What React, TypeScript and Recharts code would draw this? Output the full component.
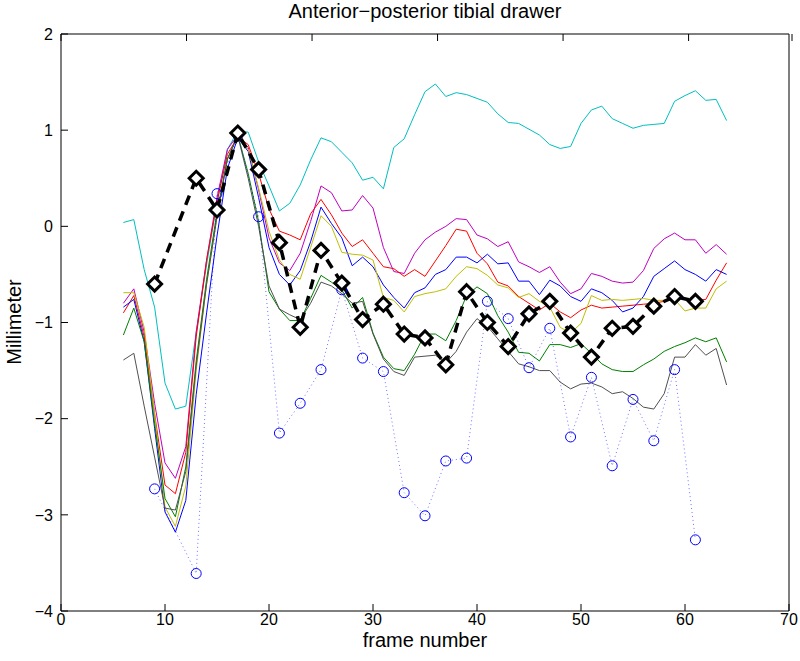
import React from "react";
import { LineChart, Line, XAxis, YAxis } from "recharts";

// frame numbers of the seven trial curves
const frames = [
  6, 7, 8, 9, 10, 11, 12, 13, 14, 15, 16, 17, 18, 19, 20, 21, 22, 23, 24, 25,
  26, 27, 28, 29, 30, 31, 32, 33, 34, 35, 36, 37, 38, 39, 40, 41, 42, 43, 44,
  45, 46, 47, 48, 49, 50, 51, 52, 53, 54, 55, 56, 57, 58, 59, 60, 61, 62, 63, 64,
];

const cyan = [
  0.04, 0.07, -0.45, -0.84, -1.63, -1.9, -1.87, -1.1, -0.4, 0.25, 0.8, 0.99, 0.98, 0.67, 0.42,
  0.16, 0.24, 0.43, 0.69, 0.92, 0.88, 0.77, 0.66, 0.48, 0.51, 0.39, 0.82, 0.91, 1.16, 1.4,
  1.48, 1.35, 1.39, 1.37, 1.33, 1.29, 1.17, 1.08, 1.07, 1.01, 0.95, 0.85, 0.81, 0.83, 1.07,
  1.21, 1.25, 1.12, 1.07, 1.02, 1.05, 1.06, 1.07, 1.3, 1.36, 1.41, 1.31, 1.32, 1.1,
];
const magenta = [
  -0.8, -0.65, -1.1, -1.84, -2.46, -2.62, -2.29, -1.1, -0.35, 0.3, 0.8, 0.95, 0.82, 0.38,
  -0.12, -0.38, -0.46, -0.28, 0.05, 0.42, 0.35, 0.16, 0.17, 0.32, 0.19, -0.22, -0.47, -0.49,
  -0.28, -0.14, -0.06, 0.0, 0.08, 0.07, -0.09, -0.13, -0.21, -0.16, -0.37, -0.42, -0.48,
  -0.42, -0.58, -0.7, -0.65, -0.49, -0.52, -0.57, -0.59, -0.58, -0.46, -0.23, -0.13, -0.07,
  -0.14, -0.14, -0.28, -0.19, -0.29,
];
const red = [
  -0.9, -0.72, -1.15, -1.95, -2.69, -2.78, -2.35, -1.15, -0.35, 0.25, 0.75, 0.93, 0.85, 0.55,
  0.18, -0.05, -0.09, -0.14, 0.13, 0.28, 0.12, -0.07, -0.21, -0.14, -0.28, -0.42, -0.44,
  -0.52, -0.45, -0.52, -0.36, -0.2, -0.03, -0.05, -0.28, -0.39, -0.58, -0.62, -0.73, -0.8,
  -0.87, -0.8, -0.89, -0.95, -0.87, -0.82, -0.85, -0.84, -0.83, -0.82, -0.81, -0.8, -0.78,
  -0.73, -0.76, -0.77, -0.76, -0.56, -0.38,
];
const blue = [
  -0.84, -0.76, -1.2, -2.1, -2.97, -3.18, -2.85, -1.75, -0.9, -0.1, 0.6, 0.92, 0.78, 0.3,
  -0.22, -0.5, -0.61, -0.46, -0.16, 0.2, 0.03, -0.12, -0.41, -0.32, -0.42, -0.61, -0.74,
  -0.85, -0.69, -0.64, -0.5, -0.45, -0.32, -0.32, -0.38, -0.29, -0.39, -0.38, -0.57, -0.57,
  -0.71, -0.56, -0.62, -0.73, -0.78, -0.65, -0.69, -0.77, -0.89, -0.85, -0.73, -0.52, -0.44,
  -0.36, -0.45, -0.5, -0.57, -0.45, -0.5,
];
const yellow = [
  -0.69, -0.69, -1.05, -1.95, -2.92, -3.12, -2.7, -1.5, -0.6, 0.1, 0.7, 0.94, 0.8, 0.4,
  -0.05, -0.35, -0.5, -0.55, -0.22, 0.11, 0.0, -0.27, -0.29, -0.3, -0.35, -0.74, -0.77,
  -0.89, -0.73, -0.7, -0.68, -0.65, -0.52, -0.42, -0.44, -0.51, -0.61, -0.64, -0.74, -0.7,
  -0.78, -0.84, -1.05, -1.11, -1.01, -0.72, -0.77, -0.76, -0.77, -0.76, -0.75, -0.77, -0.77,
  -0.76, -0.88, -0.85, -0.85, -0.65, -0.57,
];
const green = [
  -1.13, -0.85, -1.2, -2.05, -2.83, -3.02, -2.5, -1.4, -0.55, 0.15, 0.7, 0.95, 0.55, 0.05,
  -0.68, -0.86, -0.98, -0.98, -0.75, -0.51, -0.58, -0.66, -0.85, -0.74, -1.11, -1.36, -1.48,
  -1.5, -1.33, -1.12, -1.12, -1.19, -0.98, -0.72, -0.63, -0.7, -0.93, -1.1, -1.31, -1.32,
  -1.4, -1.23, -1.23, -1.26, -1.22, -1.32, -1.43, -1.49, -1.51, -1.51, -1.44, -1.38, -1.3,
  -1.25, -1.21, -1.16, -1.2, -1.16, -1.41,
];
const gray = [
  -1.39, -1.32, -1.87, -2.4, -2.93, -2.95, -2.55, -1.45, -0.6, 0.1, 0.7, 0.94, 0.5, 0.0,
  -0.62, -0.86, -0.92, -0.97, -0.8, -0.58, -0.62, -0.7, -0.8, -0.78, -1.12, -1.38, -1.51,
  -1.55, -1.36, -1.35, -1.34, -1.42, -1.3, -1.1, -0.96, -1.04, -1.17, -1.3, -1.43, -1.46,
  -1.5, -1.5, -1.62, -1.69, -1.64, -1.63, -1.67, -1.74, -1.72, -1.79, -1.88, -1.9, -1.74,
  -1.36, -1.36, -1.23, -1.34, -1.27, -1.65,
];

// sampled frames for the mean (diamonds) and the single trial (circles)
const sampleFrames = [
  9, 13, 15, 17, 19, 21, 23, 25, 27, 29, 31, 33, 35, 37, 39, 41, 43, 45, 47, 49, 51, 53, 55,
  57, 59, 61,
];
const meanValues = [
  -0.6, 0.5, 0.17, 0.97, 0.59, -0.17, -1.05, -0.25, -0.59, -0.97, -0.81, -1.12, -1.16, -1.44,
  -0.68, -1.0, -1.25, -0.91, -0.78, -1.11, -1.36, -1.06, -1.04, -0.83, -0.73, -0.78,
];
const circleValues = [
  -2.73, -3.61, 0.34, 0.95, 0.1, -2.15, -1.84, -1.49, -0.66, -1.37, -1.51, -2.77, -3.01,
  -2.44, -2.41, -0.78, -0.96, -1.47, -1.06, -2.19, -1.57, -2.49, -1.8, -2.23, -1.49, -3.26,
];

const xTicks = [0, 10, 20, 30, 40, 50, 60, 70];
const yTicks = [-4, -3, -2, -1, 0, 1, 2];

const curves = [
  { key: "cyan", color: "#00BFBF", values: cyan },
  { key: "magenta", color: "#BF00BF", values: magenta },
  { key: "red", color: "#FF0000", values: red },
  { key: "blue", color: "#0000FF", values: blue },
  { key: "yellow", color: "#BFBF00", values: yellow },
  { key: "green", color: "#008000", values: green },
  { key: "gray", color: "#505050", values: gray },
];

const rows = frames.map((f, i) => {
  const r: Record<string, number> = { frame: f };
  curves.forEach((c) => (r[c.key] = c.values[i]));
  return r;
});
const meanRows = sampleFrames.map((f, i) => ({ frame: f, value: meanValues[i] }));
const circleRows = sampleFrames.map((f, i) => ({ frame: f, value: circleValues[i] }));

const FONT = "'Liberation Sans', Arial, Helvetica, sans-serif";
const TICK_FONT = 16;
const TICK_LEN = 7;
const X_MARGIN = 3;
const Y_MARGIN = 8;
const fmt = (v: number) => (v < 0 ? `\u2212${Math.abs(v)}` : `${v}`);

// axis ticks point inward, matlab style
const BottomTick = (p: any) => {
  const base = p.y - X_MARGIN;
  return (
    <g>
      <line x1={p.x} x2={p.x} y1={base} y2={base - TICK_LEN} stroke="#000" />
      <text x={p.x} y={p.y} dy="0.71em" textAnchor="middle" fontSize={TICK_FONT} fontFamily={FONT} fill="#000">
        {fmt(p.payload.value)}
      </text>
    </g>
  );
};
const LeftTick = (p: any) => {
  const base = p.x + Y_MARGIN;
  return (
    <g>
      <line x1={base} x2={base + TICK_LEN} y1={p.y} y2={p.y} stroke="#000" />
      <text x={p.x} y={p.y} dy="0.355em" textAnchor="end" fontSize={TICK_FONT} fontFamily={FONT} fill="#000">
        {fmt(p.payload.value)}
      </text>
    </g>
  );
};
const TopTick = (p: any) => <line x1={p.x} x2={p.x} y1={p.y} y2={p.y + TICK_LEN} stroke="#000" />;
const RightTick = (p: any) => <line x1={p.x - TICK_LEN} x2={p.x} y1={p.y} y2={p.y} stroke="#000" />;

const Diamond = (props: any) => {
  const { cx, cy, index } = props;
  if (cx == null || cy == null) return <g key={`d-${index}`} />;
  const s = 7;
  return (
    <path
      key={`d-${index}`}
      d={`M${cx},${cy - s}L${cx + s},${cy}L${cx},${cy + s}L${cx - s},${cy}Z`}
      fill="#fff"
      stroke="#000"
      strokeWidth={3}
    />
  );
};

const Ring = (props: any) => {
  const { cx, cy, index } = props;
  if (cx == null || cy == null) return <g key={`c-${index}`} />;
  return <circle key={`c-${index}`} cx={cx} cy={cy} r={5} fill="none" stroke="#0000FF" strokeWidth={1} />;
};

export default function App() {
  return (
    <div style={{ position: "absolute", left: 0, top: 0, width: 800, height: 661, background: "#fff", fontFamily: FONT }}>
      <div style={{ position: "absolute", left: 0, width: 850, top: 0, textAlign: "center", fontSize: 20, color: "#000" }}>
        Anterior{"\u2212"}posterior tibial drawer
      </div>
      <div style={{ position: "absolute", left: 0, width: 850, top: 629, textAlign: "center", fontSize: 20, lineHeight: "22px", color: "#000" }}>
        frame number
      </div>
      <div
        style={{
          position: "absolute",
          left: 14,
          top: 322,
          transform: "translate(-50%, -50%) rotate(-90deg)",
          fontSize: 20,
          color: "#000",
          whiteSpace: "nowrap",
        }}
      >
        Millimeter
      </div>
      <LineChart width={800} height={661} data={rows} margin={{ top: 33, right: 10, bottom: 20, left: 16 }}>
        <XAxis
          dataKey="frame"
          type="number"
          domain={[0, 70]}
          ticks={xTicks}
          tick={BottomTick}
          tickSize={0}
          tickMargin={X_MARGIN}
          height={30}
          axisLine={{ stroke: "#000" }}
          tickLine={false}
        />
        <XAxis
          xAxisId="top"
          orientation="top"
          type="number"
          domain={[0, 70]}
          ticks={xTicks}
          tick={TopTick}
          tickSize={0}
          tickMargin={0}
          height={1}
          axisLine={{ stroke: "#000" }}
          tickLine={false}
        />
        <YAxis
          type="number"
          domain={[-4, 2]}
          ticks={yTicks}
          tick={LeftTick}
          tickSize={0}
          tickMargin={Y_MARGIN}
          width={45}
          axisLine={{ stroke: "#000" }}
          tickLine={false}
        />
        <YAxis
          yAxisId="right"
          orientation="right"
          type="number"
          domain={[-4, 2]}
          ticks={yTicks}
          tick={RightTick}
          tickSize={0}
          tickMargin={0}
          width={1}
          axisLine={{ stroke: "#000" }}
          tickLine={false}
        />
        {curves.map((c) => (
          <Line
            key={c.key}
            type="linear"
            dataKey={c.key}
            stroke={c.color}
            strokeWidth={1}
            dot={false}
            isAnimationActive={false}
          />
        ))}
        <Line
          data={circleRows}
          type="linear"
          dataKey="value"
          stroke="#0000FF"
          strokeOpacity={0.55}
          strokeWidth={1}
          strokeDasharray="1 3"
          dot={Ring}
          isAnimationActive={false}
        />
        <Line
          data={meanRows}
          type="linear"
          dataKey="value"
          stroke="#000"
          strokeWidth={3.5}
          strokeDasharray="10 7"
          dot={Diamond}
          isAnimationActive={false}
        />
      </LineChart>
    </div>
  );
}
